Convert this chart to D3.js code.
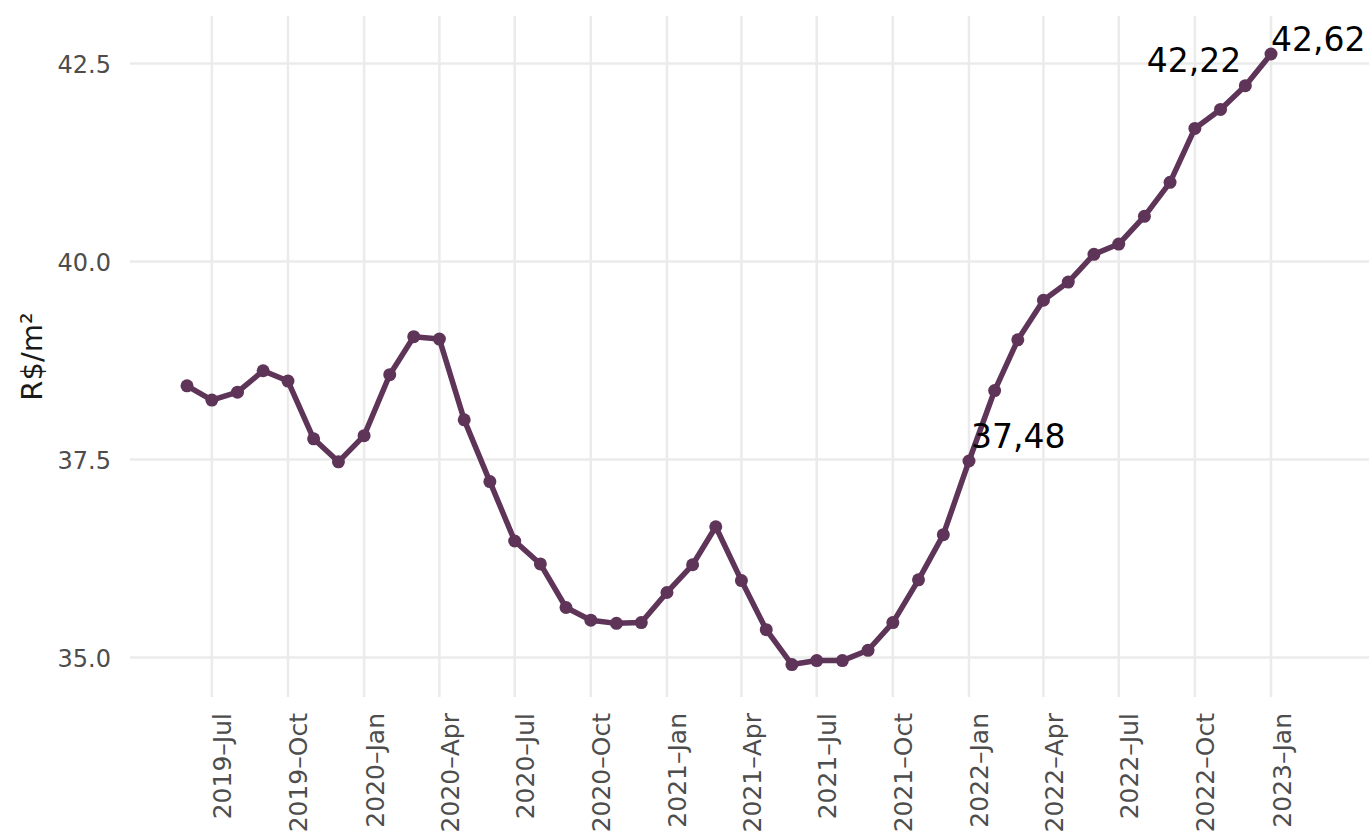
<!DOCTYPE html>
<html>
<head>
<meta charset="utf-8">
<script src="https://cdn.jsdelivr.net/npm/d3@7"></script>
<style>
  html, body { margin: 0; padding: 0; background: #fff; }
  svg { display: block; }
  svg text { font-family: "DejaVu Sans", "Noto Sans", sans-serif; }
</style>
</head>
<body>
<svg id="chart" width="1369" height="831"></svg>
<script>
// Meses (primeiro dia de cada mês)
const meses = [
  "2019-06","2019-07","2019-08","2019-09","2019-10","2019-11","2019-12",
  "2020-01","2020-02","2020-03","2020-04","2020-05","2020-06","2020-07",
  "2020-08","2020-09","2020-10","2020-11","2020-12",
  "2021-01","2021-02","2021-03","2021-04","2021-05","2021-06","2021-07",
  "2021-08","2021-09","2021-10","2021-11","2021-12",
  "2022-01","2022-02","2022-03","2022-04","2022-05","2022-06","2022-07",
  "2022-08","2022-09","2022-10","2022-11","2022-12",
  "2023-01"
];

// Valor médio R$/m²
const valores = [
  38.43, 38.25, 38.35, 38.62, 38.49, 37.76, 37.47,
  37.80, 38.57, 39.05, 39.02, 38.00, 37.22, 36.47,
  36.18, 35.63, 35.47, 35.43, 35.44,
  35.82, 36.17, 36.65, 35.97, 35.35, 34.91, 34.96,
  34.96, 35.09, 35.44, 35.98, 36.55,
  37.48, 38.37, 39.01, 39.51, 39.74, 40.09, 40.22,
  40.57, 41.00, 41.68, 41.92, 42.22,
  42.62
];

// Meses com rótulo
const mesesRotulados = ["2022-01", "2022-12", "2023-01"];

const yTicks = [35, 37.5, 40, 42.5];

const parseMes = d3.timeParse("%Y-%m");
const data = meses.map((m, i) => ({ data: parseMes(m), valor: valores[i], mes: m }));

const svg = d3.select("#chart");
const panel = { left: 130, right: 1369, top: 16, bottom: 697 };
const cor = "#5e3558";

// Escala X: datas, com folga nas pontas
const first = data[0].data, last = data[data.length - 1].data;
const span = last - first;
const x = d3.scaleTime()
  .domain([new Date(+first - span * 0.0526), new Date(+last + span * 0.0904)])
  .range([panel.left, panel.right]);

// Escala Y
const y = d3.scaleLinear()
  .domain([34.5, 43.1])
  .range([panel.bottom, panel.top]);

const xTicks = d3.timeMonth.every(3).range(d3.timeMonth.offset(first, 1), d3.timeMonth.offset(last, 1));

// Grade
const grid = svg.append("g");
grid.selectAll(".gy")
  .data(yTicks)
  .enter()
  .append("line")
  .attr("x1", panel.left)
  .attr("x2", panel.right)
  .attr("y1", d => y(d))
  .attr("y2", d => y(d))
  .attr("stroke", "#ebebeb")
  .attr("stroke-width", 2.5);

grid.selectAll(".gx")
  .data(xTicks)
  .enter()
  .append("line")
  .attr("x1", d => x(d))
  .attr("x2", d => x(d))
  .attr("y1", panel.top)
  .attr("y2", panel.bottom)
  .attr("stroke", "#ebebeb")
  .attr("stroke-width", 2.5);

// Eixo Y
const yAxis = svg.append("g")
  .attr("transform", `translate(${panel.left - 16},0)`)
  .call(d3.axisLeft(y).tickValues(yTicks).tickFormat(d3.format(".1f")).tickSize(0));
yAxis.attr("font-family", null);
yAxis.select(".domain").remove();
yAxis.selectAll("text")
  .attr("fill", "#4d4d4d")
  .style("font-size", "24px")
  .attr("dy", "0.36em");

// Eixo X (rótulos girados)
const fmtMes = d3.timeFormat("%Y-%b");
const xAxis = svg.append("g")
  .attr("transform", `translate(0,${panel.bottom})`)
  .call(d3.axisBottom(x).tickValues(xTicks).tickFormat(d => fmtMes(d).replace("-", "\u2013")).tickSize(0));
xAxis.attr("font-family", null);
xAxis.select(".domain").remove();
xAxis.selectAll("text")
  .attr("fill", "#4d4d4d")
  .style("font-size", "25px")
  .attr("text-anchor", "end")
  .attr("transform", "translate(10,16) rotate(-90)")
  .attr("x", 0)
  .attr("y", 0)
  .attr("dy", "0.36em");

// Título do eixo Y
svg.append("text")
  .attr("transform", `translate(42,${(panel.top + panel.bottom) / 2}) rotate(-90)`)
  .attr("text-anchor", "middle")
  .attr("fill", "#1a1a1a")
  .style("font-size", "29px")
  .text("R$/m²");

// Linha
const line = d3.line()
  .x(d => x(d.data))
  .y(d => y(d.valor));

svg.append("path")
  .datum(data)
  .attr("fill", "none")
  .attr("stroke", cor)
  .attr("stroke-width", 5.5)
  .attr("stroke-linejoin", "round")
  .attr("d", line);

svg.selectAll(".ponto")
  .data(data)
  .enter()
  .append("circle")
  .attr("class", "ponto")
  .attr("cx", d => x(d.data))
  .attr("cy", d => y(d.valor))
  .attr("r", 6.5)
  .attr("fill", cor);

// Rótulos
const ajuste = {
  "2022-01": { anchor: "start", dx: 2, dy: -13 },
  "2022-12": { anchor: "end", dx: -4, dy: -14 },
  "2023-01": { anchor: "start", dx: 0, dy: -3 }
};
const fmtValor = v => v.toFixed(2).replace(".", ",");

svg.selectAll(".rotulo")
  .data(data.filter(d => mesesRotulados.includes(d.mes)))
  .enter()
  .append("text")
  .attr("class", "rotulo")
  .attr("x", d => x(d.data) + ajuste[d.mes].dx)
  .attr("y", d => y(d.valor) + ajuste[d.mes].dy)
  .attr("text-anchor", d => ajuste[d.mes].anchor)
  .attr("fill", "#000")
  .style("font-size", "33px")
  .text(d => fmtValor(d.valor));
</script>
</body>
</html>
